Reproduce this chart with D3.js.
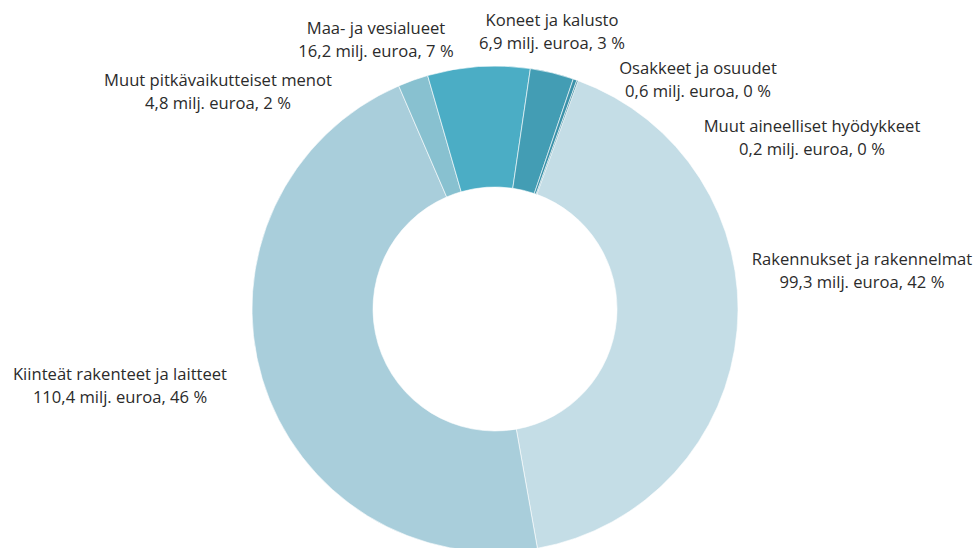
<!DOCTYPE html>
<html>
<head>
<meta charset="utf-8">
<script src="https://cdn.jsdelivr.net/npm/d3@7"></script>
<style>
  html, body { margin: 0; padding: 0; background: #fff; }
  svg { display: block; font-family: "Open Sans", sans-serif; }
</style>
</head>
<body>
<svg id="chart" width="978" height="548"></svg>
<script>
// ---- Data ----
const categories = [
  "Rakennukset ja rakennelmat",
  "Kiinteät rakenteet ja laitteet",
  "Muut pitkävaikutteiset menot",
  "Maa- ja vesialueet",
  "Koneet ja kalusto",
  "Osakkeet ja osuudet",
  "Muut aineelliset hyödykkeet"
];
const values = [99.3, 110.4, 4.8, 16.2, 6.9, 0.6, 0.2];
const unitLabel = "milj. euroa";

// ---- Styling / layout (separate from data) ----
const colors = ["#c4dde6", "#a9cedb", "#88c1d0", "#4badc5", "#439db4", "#3b91a9", "#2b7f97"];
// label anchor: centre x and first-line baseline
const labelPos = [
  [862, 265], [120, 380], [218, 86], [376, 34], [552, 26], [698, 74], [812, 132]
];
const cx = 495, cy = 309, outerR = 243, innerR = 122;
const startDeg = 20;

const svg = d3.select("#chart");
const total = d3.sum(values);
const data = categories.map((c, i) => ({ name: c, value: values[i], i }));

const pie = d3.pie()
  .value(d => d.value)
  .sort(null)
  .startAngle(startDeg * Math.PI / 180)
  .endAngle(startDeg * Math.PI / 180 + 2 * Math.PI);

const arc = d3.arc().innerRadius(innerR).outerRadius(outerR);

const g = svg.append("g").attr("transform", `translate(${cx},${cy})`);
g.selectAll("path")
  .data(pie(data))
  .join("path")
  .attr("d", arc)
  .attr("fill", d => colors[d.data.i])
  .attr("stroke", "#ffffff")
  .attr("stroke-width", 0.6);

const fmt = v => v.toFixed(1).replace(".", ",");
const labels = svg.append("g")
  .attr("font-size", 16.6)
  .attr("fill", "#2b2b2b")
  .attr("text-anchor", "middle");

data.forEach((d, i) => {
  const [x, y] = labelPos[i];
  const t = labels.append("text").attr("x", x).attr("y", y);
  t.append("tspan").attr("x", x).attr("dy", 0).text(d.name);
  t.append("tspan").attr("x", x).attr("dy", 22.5)
    .text(`${fmt(d.value)} ${unitLabel}, ${Math.round(d.value / total * 100)} %`);
});
</script>
</body>
</html>
